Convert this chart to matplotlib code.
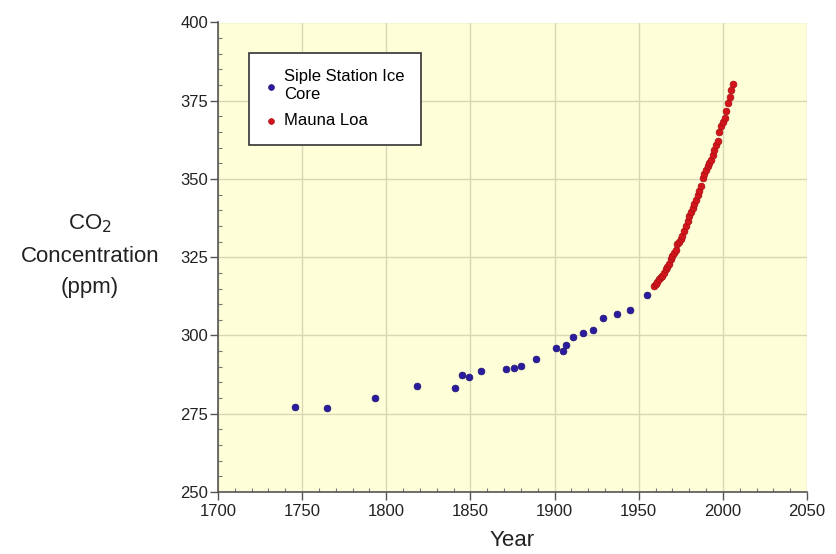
import numpy as np
import matplotlib
matplotlib.use("Agg")
import matplotlib.pyplot as plt
from matplotlib.ticker import MultipleLocator

plt.rcParams['font.family'] = ['Liberation Sans', 'DejaVu Sans']

# Siple Station ice core (year, ppm)
siple_year = [1746, 1765, 1793, 1818, 1841, 1845, 1849, 1856, 1871, 1876, 1880,
              1889, 1901, 1905, 1907, 1911, 1917, 1923, 1929, 1937, 1945, 1955]
siple_co2 = [277.0, 276.9, 279.9, 283.9, 283.3, 287.5, 286.9, 288.5, 289.4, 289.7, 290.4,
             292.5, 296.1, 295.0, 297.0, 299.4, 300.8, 301.7, 305.7, 306.8, 308.1, 312.9]

# Mauna Loa annual means
mlo_year = list(range(1959, 2007))
mlo_co2 = [315.8, 316.6, 317.2, 317.9, 318.6, 319.1, 319.9, 321.1, 321.9, 322.9,
           324.3, 325.5, 326.2, 327.3, 329.2, 330.0, 330.9, 331.8, 333.5, 335.0,
           336.5, 338.3, 339.6, 340.7, 342.0, 343.3, 344.9, 346.2, 347.8, 350.2,
           351.6, 353.0, 354.2, 355.1, 356.0, 357.6, 359.4, 360.8, 362.2, 365.0,
           366.9, 368.1, 369.6, 371.6, 374.4, 376.3, 378.4, 380.2]

fig = plt.figure(figsize=(8.36, 5.54), dpi=100)
ax = fig.add_axes([218/836, 1-492/554, (807-218)/836, (492-22.5)/554])
ax.set_facecolor('#FEFED9')

ax.scatter(siple_year, siple_co2, s=24, color='#2B1B9E', edgecolors='#1E1270',
           linewidths=0.5, zorder=3, label='Siple Station Ice\nCore')
ax.scatter(mlo_year, mlo_co2, s=24, color='#D3141B', edgecolors='#A50F14',
           linewidths=0.5, zorder=3, label='Mauna Loa')

ax.set_xlim(1700, 2050)
ax.set_ylim(250, 400)
ax.xaxis.set_major_locator(MultipleLocator(50))
ax.xaxis.set_minor_locator(MultipleLocator(10))
ax.yaxis.set_major_locator(MultipleLocator(25))
ax.yaxis.set_minor_locator(MultipleLocator(5))
ax.grid(True, which='major', color='#D8D7B6', lw=1)
ax.set_axisbelow(True)

for s in ['top', 'right']:
    ax.spines[s].set_visible(False)
for s in ['left', 'bottom']:
    ax.spines[s].set_color('#555555')
    ax.spines[s].set_linewidth(1.2)

ax.tick_params(which='major', direction='out', length=6, width=1, color='#555555',
               labelsize=12, labelcolor='#222222')
ax.tick_params(axis='x', which='major', pad=3)
ax.tick_params(axis='y', which='major', pad=1)
ax.tick_params(which='minor', direction='in', length=3, width=0.8, color='#777777')

leg = ax.legend(loc='upper left', bbox_to_anchor=(249/836, 1-52.5/554),
                bbox_transform=fig.transFigure, borderaxespad=0, fontsize=12,
                fancybox=False, framealpha=1, edgecolor='#333333',
                handletextpad=0.5, borderpad=1.0, labelspacing=0.7,
                handlelength=0.6, scatterpoints=1, markerscale=0.85)
leg.get_frame().set_linewidth(1.2)

fig.text(90/836, 1-224/554, 'CO$_2$', ha='center', va='center', fontsize=16,
         math_fontfamily='dejavusans', color='#222222')
fig.text(90/836, 1-256/554, 'Concentration', ha='center', va='center', fontsize=16,
         color='#222222')
fig.text(90/836, 1-288/554, '(ppm)', ha='center', va='center', fontsize=16,
         color='#222222')
fig.text(512/836, 1-540/554, 'Year', ha='center', va='center', fontsize=16,
         color='#222222')

fig.savefig('out.png', dpi=100)
